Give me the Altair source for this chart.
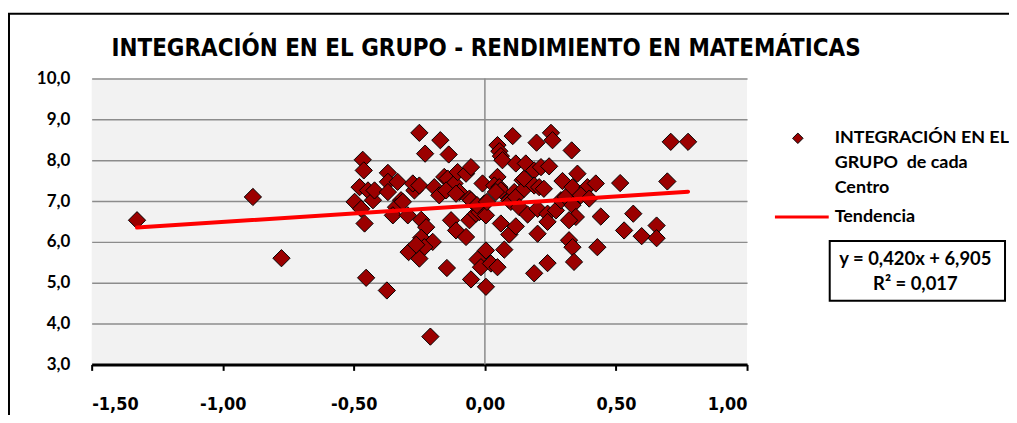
import altair as alt
import pandas as pd

# ---- data ----
integ_x = [-1.327, -0.885, -0.776, -0.466, -0.462, -0.478, -0.446, -0.497, -0.472, -0.459,
           -0.453, -0.427, -0.421, -0.374, -0.370, -0.370, -0.333, -0.370, -0.320, -0.339,
           -0.351, -0.294, -0.269, -0.275, -0.250, -0.313, -0.243, -0.224, -0.243, -0.199,
           -0.231, -0.291, -0.250, -0.250, -0.228, -0.208, -0.262, -0.193, -0.174, -0.170,
           -0.138, -0.155, -0.142, -0.116, -0.148, -0.097, -0.104, -0.129, -0.110, -0.072,
           -0.059, -0.145, -0.110, -0.072, -0.053, -0.059, -0.053, -0.034, -0.021, -0.009,
           -0.002, -0.030, -0.053, -0.028, -0.015, 0.004, 0.004, 0.004, 0.008, 0.023,
           0.048, 0.074, 0.061, 0.093, 0.118, 0.048, 0.055, 0.061, 0.067, 0.106,
           0.118, 0.048, 0.036, 0.055, 0.061, 0.042, 0.093, 0.099, 0.112, 0.118,
           0.144, 0.150, 0.150, 0.156, 0.188, 0.188, 0.131, 0.163, 0.201, 0.201,
           0.188, 0.197, 0.214, 0.245, 0.207, 0.225, 0.252, 0.258, 0.239, 0.239,
           0.239, 0.271, 0.296, 0.290, 0.309, 0.331, 0.353, 0.334, 0.391, 0.366,
           0.398, 0.334, 0.347, 0.321, 0.321, 0.334, 0.340, 0.423, 0.442, 0.429,
           0.516, 0.531, 0.566, 0.598, 0.655, 0.655, 0.696, 0.709, 0.775]
rend_y = [6.53, 7.10, 5.60, 8.01, 7.75, 7.34, 7.26, 6.98, 6.81, 6.45,
          5.12, 7.02, 7.26, 4.81, 7.69, 7.47, 7.47, 7.22, 7.02, 6.85,
          6.65, 6.65, 7.26, 7.43, 7.38, 6.98, 6.54, 6.36, 6.10, 6.00,
          5.87, 5.75, 5.59, 8.67, 8.16, 3.68, 5.93, 7.34, 7.14, 8.49,
          8.14, 7.59, 7.55, 7.43, 7.26, 7.22, 7.71, 6.53, 6.28, 6.12,
          6.53, 5.36, 7.18, 7.67, 7.83, 7.06, 7.02, 6.69, 6.73, 7.43,
          6.94, 6.90, 5.08, 5.57, 5.38, 4.90, 5.79, 6.65, 6.98, 5.47,
          5.38, 5.81, 6.45, 6.18, 6.38, 8.37, 8.22, 8.10, 8.00, 8.59,
          7.92, 7.59, 7.38, 7.34, 7.26, 7.22, 7.02, 6.98, 7.22, 7.10,
          7.51, 7.30, 7.55, 7.92, 7.75, 7.38, 6.85, 6.67, 6.81, 6.20,
          5.23, 8.43, 7.83, 7.85, 7.34, 7.30, 8.67, 8.49, 6.69, 6.49,
          5.48, 6.77, 7.49, 7.02, 7.10, 8.24, 7.67, 7.34, 7.34, 7.14,
          7.06, 6.90, 6.61, 6.53, 6.04, 5.87, 5.51, 7.43, 6.62, 5.87,
          7.44, 6.28, 6.69, 6.14, 6.40, 6.09, 7.48, 8.45, 8.45]

trend_x = [-1.327, 0.775]
trend_y = [6.35, 7.23]

x_ticks = [-1.5, -1.0, -0.5, 0.0, 0.5, 1.0]
y_ticks = [3, 4, 5, 6, 7, 8, 9, 10]

title_text = "INTEGRACIÓN EN EL GRUPO - RENDIMIENTO EN MATEMÁTICAS"
legend_series = ["INTEGRACIÓN EN EL", "GRUPO\u00a0 de cada", "Centro"]
legend_trend = "Tendencia"
equation_lines = ["y = 0,420x + 6,905", "R² = 0,017"]

# ---- styling ----
NARROW = "'Liberation Sans Narrow', 'DejaVu Sans Condensed', sans-serif"
LEG = "Lato"
W, H = 658, 287

pts = pd.DataFrame({"x": integ_x, "y": rend_y})
trend = pd.DataFrame({"x": trend_x, "y": trend_y})
zero = pd.DataFrame({"x": [0.0]})

xscale = alt.Scale(domain=[-1.5, 1.0], nice=False, zero=False)
yscale = alt.Scale(domain=[3, 10], nice=False, zero=False)

xaxis = alt.Axis(values=x_ticks, title=None, grid=False,
                 domainColor="black", domainWidth=3, tickColor="black",
                 tickWidth=2, tickSize=6, labelFont=NARROW, labelFontSize=18,
                 labelFontWeight="bold", labelColor="black", labelPadding=25,
                 labelExpr="(datum.value < 0 ? '-' : '') + replace(format(abs(datum.value), '.2f'), '.', ',')")
yaxis = alt.Axis(values=y_ticks, title=None, grid=True, gridColor="#8c8c8c",
                 gridWidth=1.5, domain=False, ticks=False, labelFont=LEG,
                 labelFontSize=17, labelFontWeight="bold", labelColor="black",
                 labelPadding=22,
                 labelExpr="replace(format(datum.value, '.1f'), '.', ',')")

zero_rule = alt.Chart(zero).mark_rule(color="#8c8c8c", strokeWidth=1.5).encode(
    x=alt.X("x:Q", scale=xscale, axis=xaxis))

points = alt.Chart(pts).mark_point(shape="diamond", filled=True, fill="#9b0000",
                                    stroke="black", strokeWidth=1, size=300,
                                    opacity=1).encode(
    x=alt.X("x:Q", scale=xscale, axis=xaxis),
    y=alt.Y("y:Q", scale=yscale, axis=yaxis))

trend_line = alt.Chart(trend).mark_line(color="#ff0000", strokeWidth=4,
                                        strokeCap="round").encode(
    x=alt.X("x:Q", scale=xscale),
    y=alt.Y("y:Q", scale=yscale))

one = pd.DataFrame({"a": [0]})

# outer chart frame
frame = alt.Chart(one).mark_rect(fill=None, stroke="black", strokeWidth=2).encode(
    x=alt.value(-83), x2=alt.value(1000), y=alt.value(-65), y2=alt.value(400))

layers = [frame, zero_rule, points, trend_line]

# chart title
layers.append(alt.Chart(one).mark_text(font=NARROW, fontSize=24, fontWeight="bold",
                                       align="center", baseline="alphabetic",
                                       color="black").encode(
    x=alt.value(396), y=alt.value(-23), text=alt.value(title_text)))

# legend: series marker and text
layers.append(alt.Chart(one).mark_point(shape="diamond", filled=True, fill="#9b0000",
                                        stroke="black", strokeWidth=1, size=110,
                                        opacity=1).encode(
    x=alt.value(709), y=alt.value(60)))
for i, line in enumerate(legend_series):
    layers.append(alt.Chart(one).mark_text(font=LEG, fontSize=18, fontWeight="bold",
                                           align="left", baseline="middle",
                                           color="black").encode(
        x=alt.value(746), y=alt.value(60 + 25 * i), text=alt.value(line)))
layers.append(alt.Chart(one).mark_rule(color="#ff0000", strokeWidth=3).encode(
    x=alt.value(686), x2=alt.value(740), y=alt.value(139)))
layers.append(alt.Chart(one).mark_text(font=LEG, fontSize=18, fontWeight="bold",
                                       align="left", baseline="middle",
                                       color="black").encode(
    x=alt.value(746), y=alt.value(139), text=alt.value(legend_trend)))
# equation box
layers.append(alt.Chart(one).mark_rect(fill="white", stroke="black", strokeWidth=2).encode(
    x=alt.value(741), x2=alt.value(917), y=alt.value(163), y2=alt.value(223)))
for i, line in enumerate(equation_lines):
    layers.append(alt.Chart(one).mark_text(font=LEG, fontSize=18.5, fontWeight="bold",
                                           align="center", baseline="middle",
                                           color="black").encode(
        x=alt.value(827), y=alt.value(181 + 25 * i), text=alt.value(line)))

chart = alt.layer(*layers).properties(
    width=W, height=H,
    autosize=alt.AutoSizeParams(type="none"),
    padding={"left": 84, "top": 70, "right": 263, "bottom": 50},
    background="white",
).configure_view(fill="#f2f2f2", strokeWidth=0)

chart.save("out.html", embed_options={"renderer": "svg", "actions": False})
